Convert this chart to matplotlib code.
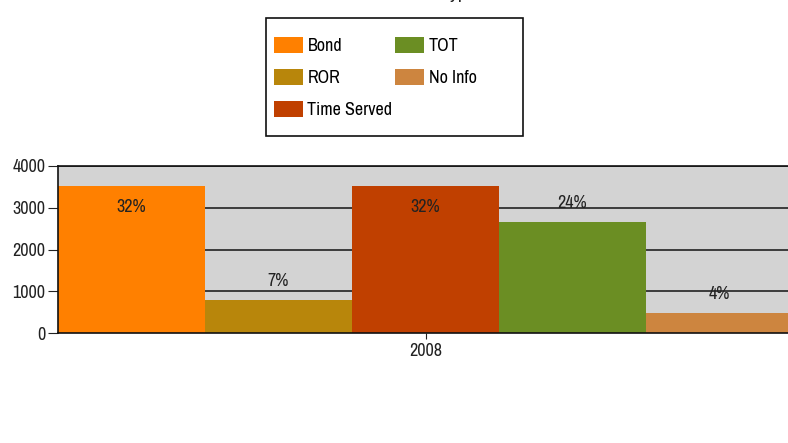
import matplotlib.pyplot as plt
from matplotlib.patches import Rectangle
import numpy as np

plt.rcParams["font.family"] = ["Archivo Narrow", "DejaVu Sans"]

categories = ["Bond", "ROR", "Time Served", "TOT", "No Info"]
counts = [3520, 790, 3520, 2650, 470]
pct_labels = ["32%", "7%", "32%", "24%", "4%"]
colors = ["#FF8000", "#B8860B", "#C04000", "#6B8E23", "#CD853F"]
year = "2008"

W, H = 788, 443
fig = plt.figure(figsize=(W / 100, H / 100), dpi=100)
ax = fig.add_axes([58 / W, (H - 333) / H, (793 - 58) / W, (333 - 166) / H])
ax.set_facecolor("#D3D3D3")

x = np.arange(len(categories))
bars = ax.bar(x, counts, width=1.0, color=colors, label=categories, zorder=2)

# labels sit inside the tall bars, above the others
for xi, val, lab in zip(x, counts, pct_labels):
    dy = -21 if val > 3200 else 19
    ax.annotate(lab, (xi, val), xytext=(0, dy), textcoords="offset pixels",
                ha="center", va="center", fontsize=13, color="#222222", zorder=3)

ax.set_xlim(-0.5, len(categories) - 0.5)
ax.set_ylim(0, 4000)
ax.set_yticks([0, 1000, 2000, 3000, 4000])
ax.set_xticks([2])
ax.set_xticklabels([year])
ax.set_axisbelow(True)
ax.yaxis.grid(True, color="#222222", linewidth=1.2)
ax.tick_params(axis="both", labelsize=13, colors="#222222")
ax.tick_params(axis="y", length=7, pad=2)
ax.tick_params(axis="x", length=4, pad=3)
for s in ax.spines.values():
    s.set_color("#111111")
    s.set_linewidth(1.2)

# legend box drawn separately so its size matches the original
fig.patches.append(Rectangle((266 / W, 1 - 136 / H), (523 - 266) / W, (136 - 18) / H,
                             transform=fig.transFigure, facecolor="white",
                             edgecolor="#111111", linewidth=1.2, zorder=0))
leg = fig.legend(handles=bars, labels=categories, ncol=2,
                 loc="upper left", bbox_to_anchor=(274 / W, 1 - 37 / H),
                 frameon=False, fontsize=13, handlelength=1.6, handleheight=1.0,
                 handletextpad=0.25, columnspacing=0.15, labelspacing=0.82,
                 borderpad=0, borderaxespad=0)

# title is mostly off the top edge in the original
fig.text(476 / W, 1 - 2 / H, "Pretrial Release Type", ha="right", va="bottom",
         fontsize=14, color="#222222")

fig.savefig("out.png", dpi=100)
